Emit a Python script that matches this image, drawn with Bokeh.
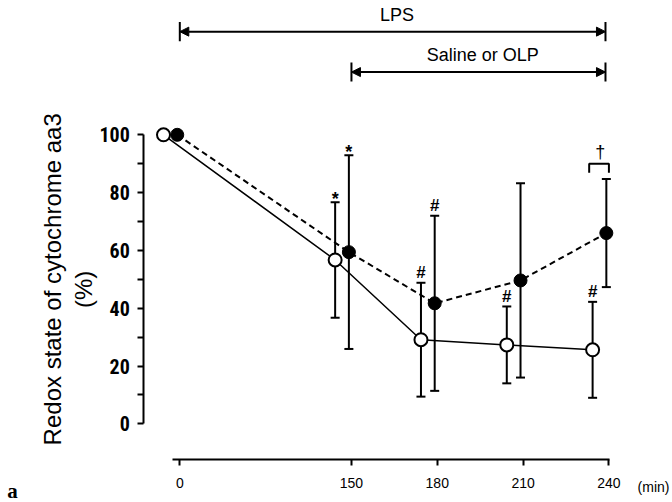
from bokeh.plotting import figure
from bokeh.models import Range1d, FixedTicker, Arrow, NormalHead
from bokeh.embed import file_html
from bokeh.resources import INLINE
from bokeh.core.properties import value
import math

# ---------------- data ----------------
time_labels = ["0", "150", "180", "210", "240"]
axis_pos = [0, 2, 3, 4, 5]          # broken time axis: 0 ... 150, 180, 210, 240 (min)
open_mean = [100, 56.7, 29.1, 27.3, 25.6]
open_sd = [0, 20.0, 19.7, 13.3, 16.6]
filled_mean = [100, 59.4, 41.7, 49.6, 66.0]
filled_sd = [0, 33.5, 30.3, 33.6, 18.7]
open_sig = ["", "*", "#", "#", "#"]
filled_sig = ["", "*", "#", "", ""]
y_ticks = [0, 10, 20, 30, 40, 50, 60, 70, 80, 90, 100]
y_tick_labels = ["0", "", "20", "", "40", "", "60", "", "80", "", "100"]
periods = [("LPS", "0", "240"), ("Saline or OLP", "150", "240")]

# ---------------- styles ----------------
open_dx = -0.19
filled_dx = -0.03
SANS = "Liberation Sans"

pos_of = dict(zip(time_labels, axis_pos))
ox = [a + open_dx for a in axis_pos]
fx = [a + filled_dx for a in axis_pos]

p = figure(width=672, height=502,
           x_range=Range1d(-2.0893, 5.7409), y_range=Range1d(-27.23, 146.47),
           output_backend="svg", toolbar_location=None,
           min_border_left=0, min_border_right=0, min_border_top=0, min_border_bottom=0)
p.grid.visible = False
p.outline_line_color = None
p.background_fill_color = "white"
p.border_fill_color = "white"

# x axis (broken time axis)
xa = p.xaxis[0]
xa.fixed_location = -12.35
xa.ticker = FixedTicker(ticks=axis_pos)
xa.major_label_overrides = {a: t for a, t in zip(axis_pos, time_labels)}
xa.bounds = (-0.09, 5.005)
xa.minor_tick_line_color = None
xa.major_tick_in = 0
xa.major_tick_out = 6
xa.axis_line_width = 2
xa.major_tick_line_width = 2
xa.major_label_text_font = SANS
xa.major_label_text_font_size = "14px"
xa.major_label_text_color = "black"
xa.major_label_standoff = 13

# y axis
ya = p.yaxis[0]
ya.fixed_location = -0.4195
ya.ticker = FixedTicker(ticks=y_ticks)
ya.major_label_overrides = {t: l for t, l in zip(y_ticks, y_tick_labels)}
ya.bounds = (0, 100)
ya.minor_tick_line_color = None
ya.major_tick_in = 0
ya.major_tick_out = 6
ya.axis_line_width = 2
ya.major_tick_line_width = 2
ya.major_label_text_font = "Roboto Condensed, DejaVu Sans Condensed, Liberation Sans"
ya.major_label_text_font_style = "bold"
ya.major_label_text_font_size = "20px"
ya.major_label_text_color = "black"
ya.major_label_standoff = 8

# period arrows
for (name, t0, t1), yrow in zip(periods, [135.7, 121.7]):
    x0, x1 = pos_of[t0], pos_of[t1] - 0.04
    p.add_layout(Arrow(x_start=x0, y_start=yrow, x_end=x1, y_end=yrow,
                       start=NormalHead(size=9, fill_color="black", line_color="black"),
                       end=NormalHead(size=9, fill_color="black", line_color="black"),
                       line_width=2, line_color="black"))
    p.segment(x0=[x0, x1], y0=[yrow - 3.3, yrow - 3.3], x1=[x0, x1], y1=[yrow + 3.3, yrow + 3.3],
              line_color="black", line_width=2)
    p.text(x=[(x0 + x1) / 2 + 0.05], y=[yrow + 5.8], text=[name], text_font=value(SANS),
           text_font_size="18px", text_align="center", text_baseline="middle", text_color="black")

# lines
p.line(ox, open_mean, line_color="black", line_width=1.5)
p.line(fx, filled_mean, line_color="black", line_width=2, line_dash="6 4")

# error bars
for xs, m, s in ((ox, open_mean, open_sd), (fx, filled_mean, filled_sd)):
    xx = [x for x, sd in zip(xs, s) if sd > 0]
    lo = [mm - sd for mm, sd in zip(m, s) if sd > 0]
    hi = [mm + sd for mm, sd in zip(m, s) if sd > 0]
    p.segment(x0=xx, y0=lo, x1=xx, y1=hi, line_color="black", line_width=2)
    p.scatter(x=xx + xx, y=lo + hi, marker="dash", size=9, line_color="black", line_width=2)

# points
p.scatter(ox, open_mean, size=13, fill_color="white", line_color="black", line_width=2)
p.scatter(fx, filled_mean, size=13, fill_color="black", line_color="black", line_width=1)

# significance marks
for xs, m, s, sig in ((ox, open_mean, open_sd, open_sig), (fx, filled_mean, filled_sd, filled_sig)):
    for sym, off, fs in (("*", -3, "18px"), ("#", -10, "17px")):
        idx = [i for i, g in enumerate(sig) if g == sym]
        if not idx:
            continue
        p.text(x=[xs[i] for i in idx], y=[m[i] + s[i] for i in idx], text=[sym] * len(idx),
               text_font=value(SANS), text_font_size=fs, text_font_style="bold",
               text_align="center", text_baseline="middle", y_offset=off, text_color="black")

# dagger bracket between groups at 240 min
k = 4
yb = filled_mean[k] + filled_sd[k] + 5.3
p.line([ox[k] - 0.04, ox[k] - 0.04, fx[k] + 0.03, fx[k] + 0.03], [yb - 3.1, yb, yb, yb - 3.1],
       line_color="black", line_width=2)
p.text(x=[(ox[k] + fx[k]) / 2 + 0.01], y=[yb + 3.9], text=["\u2020"], text_font=value(SANS),
       text_font_size="18px", text_align="center", text_baseline="middle", text_color="black")

# axis titles and panel letter (drawn as text inside the full-canvas frame)
p.text(x=[-1.483], y=[50], text=["Redox state of cytochrome aa3"], angle=math.pi / 2,
       text_font=value(SANS), text_font_size="24px", text_align="center",
       text_baseline="middle", text_color="black")
p.text(x=[-1.122], y=[46.5], text=["(%)"], angle=math.pi / 2,
       text_font=value(SANS), text_font_size="24px", text_align="center",
       text_baseline="middle", text_color="black")
p.text(x=[5.52], y=[-22.0], text=["(min)"], text_font=value(SANS), text_font_size="14px",
       text_align="center", text_baseline="middle", text_color="black")
p.text(x=[-1.949], y=[-23.1], text=["a"], text_font=value("Liberation Serif"), text_font_style="bold",
       text_font_size="21px", text_align="center", text_baseline="middle", text_color="black")

open("out.html", "w").write(file_html(p, INLINE))
